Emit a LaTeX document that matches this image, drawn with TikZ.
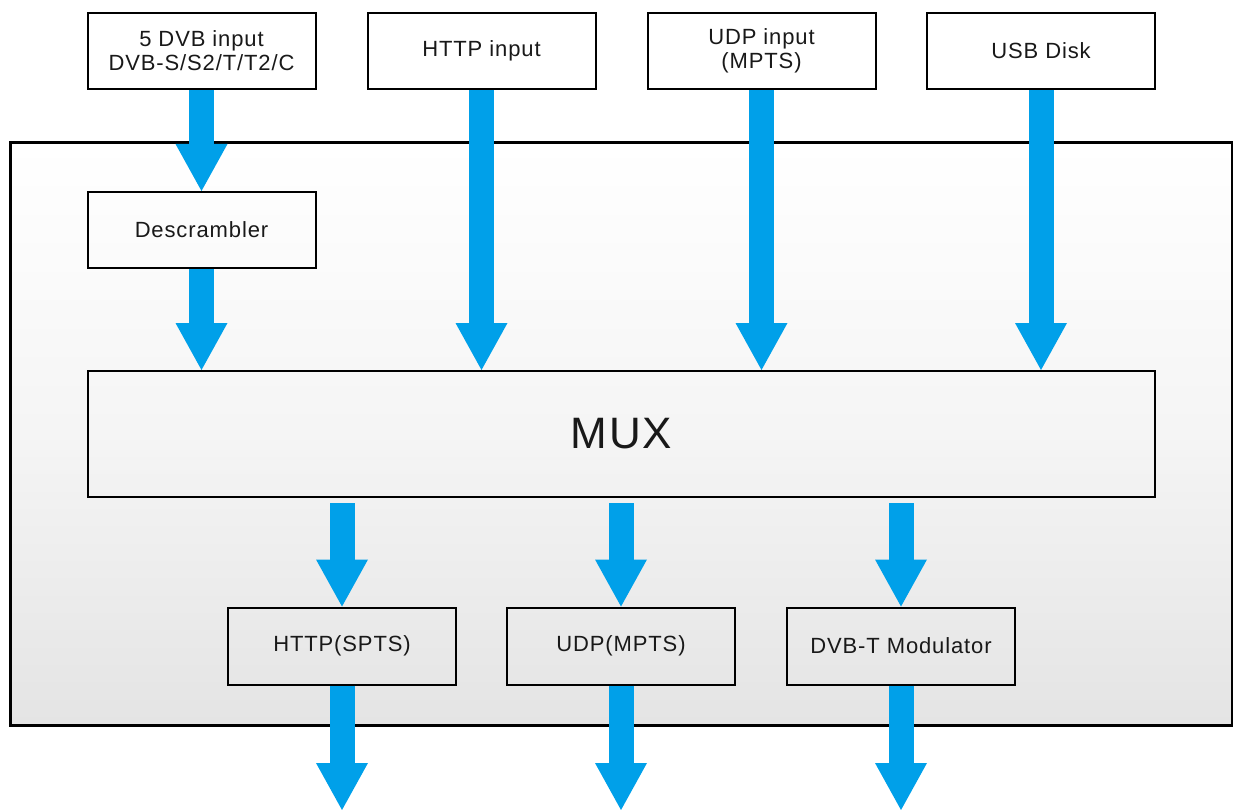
\documentclass[tikz,border=0pt]{standalone}
\usepackage{fontspec}
\setmainfont{Liberation Sans}[LetterSpace=4]
\usetikzlibrary{arrows.meta}
\definecolor{arr}{RGB}{0,160,233}
\definecolor{bgbot}{RGB}{228,228,228}
\begin{document}
\begin{tikzpicture}[x=1pt,y=-1pt,
  box/.style={draw=black, line width=2pt, minimum width=228pt, minimum height=76pt,
    inner sep=0pt, align=center, font=\fontsize{22}{24}\selectfont, text=black!90},
  flow/.style={draw=arr, line width=25pt,
    -{Triangle[width=52pt,length=47pt,line width=0pt]}},
]
\useasboundingbox (0,0) rectangle (1233,810);
% outer frame
\shade[top color=white, bottom color=bgbot, middle color=white!96!black] (10,143) rectangle (1232,725);
\draw[line width=3pt] (10,143) rectangle (1232,725);

% input boxes
\node[box, fill=white] (dvb)  at (201.5,51) {5 DVB input\\DVB-S/S2/T/T2/C};
\node[box, fill=white] (http) at (481.5,51) {HTTP input};
\node[box, fill=white] (udp)  at (761.5,51) {UDP input\\(MPTS)};
\node[box, fill=white] (usb)  at (1041,51) {USB Disk};

\node[box] (desc) at (201.5,230) {Descrambler};

\node[box, minimum width=1067pt, minimum height=126pt,
      font=\fontsize{44}{48}\selectfont] (mux) at (621.5,434) {MUX};

\node[box, minimum height=77pt] (o1) at (342,646) {HTTP(SPTS)};
\node[box, minimum height=77pt] (o2) at (621,646) {UDP(MPTS)};
\node[box, minimum height=77pt] (o3) at (901,646) {DVB-T Modulator};

\coordinate (e1) at (342,810);
\coordinate (e2) at (621,810);
\coordinate (e3) at (901,810);

% arrows
\draw[flow] (dvb.south) -- (desc.north);
\draw[flow] (desc.south) -- (desc.south |- mux.north);
\draw[flow] (http.south) -- (http.south |- mux.north);
\draw[flow] (udp.south) -- (udp.south |- mux.north);
\draw[flow] (usb.south) -- (usb.south |- mux.north);

\draw[flow] ([yshift=-5pt]mux.south -| o1.north) -- (o1.north);
\draw[flow] ([yshift=-5pt]mux.south -| o2.north) -- (o2.north);
\draw[flow] ([yshift=-5pt]mux.south -| o3.north) -- (o3.north);

\draw[flow] (o1.south) -- (e1);
\draw[flow] (o2.south) -- (e2);
\draw[flow] (o3.south) -- (e3);
\end{tikzpicture}
\end{document}
